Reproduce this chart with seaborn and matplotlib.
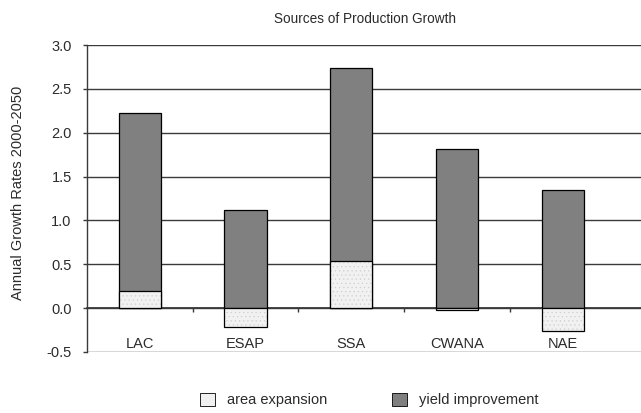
import matplotlib.pyplot as plt
import pandas as pd
import seaborn as sns
from matplotlib.patches import Patch

regions = ["LAC", "ESAP", "SSA", "CWANA", "NAE"]
area_expansion = [0.20, -0.21, 0.54, -0.02, -0.26]
yield_improvement = [2.02, 1.12, 2.20, 1.81, 1.35]

YIELD_COLOR = "#808080"
AREA_COLOR = "#f1f1f1"
LINE_COLOR = "#3a3a3a"
TEXT_COLOR = "#2b2b2b"


def main():
    sns.set_theme(style="white")
    plt.rcParams["font.family"] = ["Liberation Sans", "DejaVu Sans"]
    plt.rcParams["hatch.linewidth"] = 0.4

    df = pd.DataFrame({
        "region": regions,
        "area": area_expansion,
        "yield": yield_improvement,
    })
    # yield sits on top of positive area expansion, otherwise starts at zero
    df["top"] = df["area"].clip(lower=0) + df["yield"]

    fig = plt.figure(figsize=(6.41, 4.13), dpi=100)
    ax = fig.add_axes([0.1357, 0.1477, 0.8643, 0.7433])

    sns.barplot(data=df, x="region", y="top", color=YIELD_COLOR, width=0.4,
                edgecolor="black", linewidth=0.9, saturation=1, ax=ax, zorder=3)
    sns.barplot(data=df, x="region", y="area", color=AREA_COLOR, width=0.4,
                edgecolor="#cfcfcf", linewidth=0, hatch="....", saturation=1,
                ax=ax, zorder=4)
    # outline of the area bars
    sns.barplot(data=df, x="region", y="area", fill=False, width=0.4,
                edgecolor="black", linewidth=0.9, ax=ax, zorder=5)

    ax.set_xlim(-0.5, 4.74)
    ax.set_ylim(-0.5, 3.0)
    ax.set_yticks([-0.5, 0.0, 0.5, 1.0, 1.5, 2.0, 2.5, 3.0])
    ax.set_yticklabels([f"{v:.1f}" for v in ax.get_yticks()])
    ax.grid(axis="y", color=LINE_COLOR, linewidth=1.0, zorder=0)
    ax.set_axisbelow(True)

    for side in ["top", "right"]:
        ax.spines[side].set_visible(False)
    ax.spines["left"].set_color(LINE_COLOR)
    ax.spines["left"].set_linewidth(1.0)
    ax.spines["bottom"].set_position(("data", 0))
    ax.spines["bottom"].set_color(LINE_COLOR)
    ax.spines["bottom"].set_linewidth(1.3)

    ax.set_xticks(range(len(regions)))
    ax.set_xticklabels(regions)
    ax.set_xticks([0.5, 1.5, 2.5, 3.5], minor=True)
    ax.tick_params(axis="x", which="major", length=0, pad=21, labelsize=10.5,
                   labelcolor=TEXT_COLOR)
    ax.tick_params(axis="x", which="minor", length=3, width=1,
                   color=LINE_COLOR, direction="out", bottom=True)
    ax.tick_params(axis="y", length=3, width=1, color=LINE_COLOR, left=True,
                   pad=8, labelsize=10.5, labelcolor=TEXT_COLOR)

    ax.set_xlabel("")
    ax.set_ylabel("Annual Growth Rates 2000-2050", fontsize=10.5,
                  color=TEXT_COLOR)
    ax.yaxis.set_label_coords(-0.111, 0.518)
    fig.text(0.57, 0.955, "Sources of Production Growth", ha="center",
             va="center", fontsize=9.8, color=TEXT_COLOR)

    handles = [
        Patch(facecolor=AREA_COLOR, edgecolor="black", linewidth=0.6,
              label="area expansion"),
        Patch(facecolor=YIELD_COLOR, edgecolor="black", linewidth=0.6,
              label="yield improvement"),
    ]
    fig.legend(handles=handles, loc="center", bbox_to_anchor=(0.576, 0.031),
               ncol=2, frameon=False, fontsize=10.5, handlelength=1.0,
               handleheight=1.0, columnspacing=4.5, handletextpad=0.8,
               labelcolor=TEXT_COLOR, borderpad=0, borderaxespad=0)

    fig.savefig("out.png", dpi=100)
    plt.close(fig)


if __name__ == "__main__":
    main()
